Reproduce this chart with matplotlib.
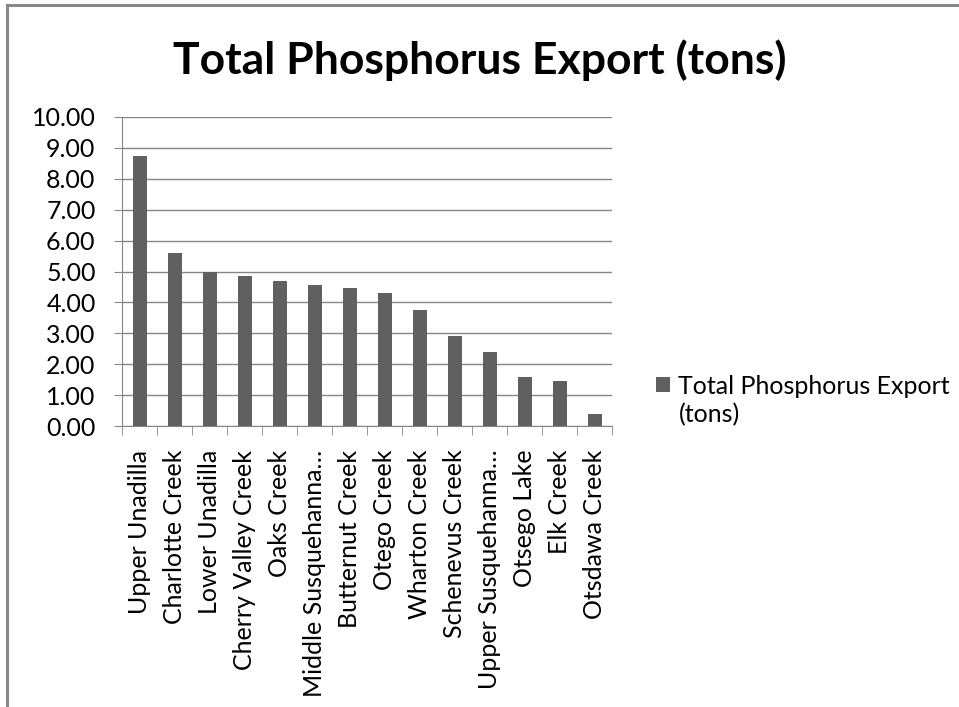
import matplotlib
matplotlib.use("Agg")
import matplotlib.pyplot as plt
from matplotlib.lines import Line2D
import numpy as np

categories = ["Upper Unadilla", "Charlotte Creek", "Lower Unadilla", "Cherry Valley Creek",
              "Oaks Creek", "Middle Susquehanna\u2026", "Butternut Creek", "Otego Creek",
              "Wharton Creek", "Schenevus Creek", "Upper Susquehanna\u2026", "Otsego Lake",
              "Elk Creek", "Otsdawa Creek"]
values = [8.75, 5.60, 4.97, 4.85, 4.69, 4.57, 4.48, 4.31, 3.77, 2.90, 2.40, 1.58, 1.45, 0.38]
series_name = "Total Phosphorus Export (tons)"
legend_lines = ["Total Phosphorus Export", "(tons)"]
y_ticks = np.arange(0, 11, 1)

plt.rcParams['font.family'] = ['Lato', 'DejaVu Sans']
FS = 18

W, H = 959, 707
fig = plt.figure(figsize=(W / 100, H / 100), dpi=100)

# outer chart border (top and left edges visible)
fig.add_artist(Line2D([7 / W, 7 / W], [0, 1 - 5 / H], transform=fig.transFigure, color="#888888", lw=2.2))
fig.add_artist(Line2D([7 / W, 1], [1 - 5 / H, 1 - 5 / H], transform=fig.transFigure, color="#888888", lw=2.2))

ax = fig.add_axes([122 / W, 1 - 426 / H, (612 - 122) / W, (426 - 117) / H])
x = np.arange(len(categories))
ax.bar(x, values, width=0.4, color="#606060", zorder=3, label=legend_lines[0])

ax.set_xlim(-0.5, len(categories) - 0.5)
ax.set_ylim(0, 10)
ax.set_yticks(y_ticks)
ax.set_yticklabels([f"{v:.2f}" for v in y_ticks], fontsize=FS)
ax.yaxis.grid(True, color="#868686", lw=1.0, zorder=0)

ax.set_xticks(x)
ax.set_xticklabels(categories, rotation=90, fontsize=FS, va="top", ha="center")
ax.set_xticks(np.arange(-0.5, len(categories), 1), minor=True)
ax.tick_params(axis="x", which="major", length=0, pad=17)
ax.tick_params(axis="x", which="minor", length=6.5, color="#868686", direction="out")
ax.tick_params(axis="y", length=6, color="#868686", direction="out", pad=13)

for s in ["top", "right"]:
    ax.spines[s].set_visible(False)
for s in ["left", "bottom"]:
    ax.spines[s].set_color("#868686")

fig.text(480 / W, 1 - 60 / H, series_name, fontsize=32, fontweight="bold",
         ha="center", va="center")

leg = fig.legend(loc="center left", bbox_to_anchor=(656 / W, 1 - 386 / H), frameon=False,
                 fontsize=FS, handlelength=0.55, handleheight=0.55, handletextpad=0.35,
                 borderaxespad=0, borderpad=0)

# second line of the legend label, aligned under the first line
fig.canvas.draw()
bb = leg.get_texts()[0].get_window_extent()
inv = fig.transFigure.inverted()
x0, y0 = inv.transform((bb.x0, bb.y0))
fig.text(x0, y0 - 6 / H, legend_lines[1], fontsize=FS, ha="left", va="top")

fig.savefig("out.png", dpi=100)
